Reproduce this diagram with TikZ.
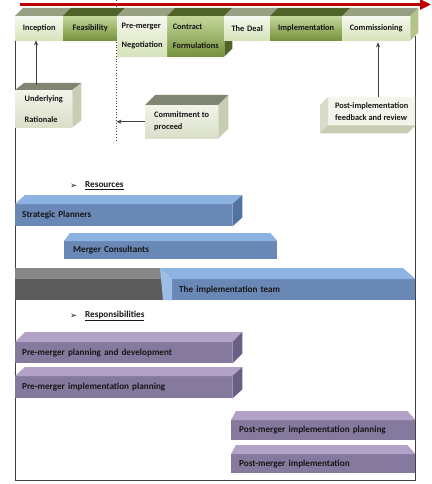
\documentclass[tikz,border=0pt]{standalone}
\usepackage{fontspec}
\setmainfont{Carlito}
\newfontfamily\symfont{DejaVu Sans}
\usetikzlibrary{arrows.meta,calc}
\definecolor{gltop}{HTML}{F5F8EE}
\definecolor{glbot}{HTML}{D6E3BA}
\definecolor{gdtop}{HTML}{C4D79B}
\definecolor{gdbot}{HTML}{76923C}
\definecolor{gtopl}{HTML}{97A083}
\definecolor{gtopd}{HTML}{4F6228}
\definecolor{gside}{HTML}{B3C48A}
\definecolor{btop}{HTML}{F2F4EA}
\definecolor{bbot}{HTML}{D9DFC8}
\definecolor{btopface}{HTML}{7F8473}
\definecolor{bside}{HTML}{C6CDB2}
\definecolor{blfront}{HTML}{6A88B6}
\definecolor{bltop}{HTML}{8DB3E2}
\definecolor{blside}{HTML}{52739F}
\definecolor{blleft}{HTML}{9DBDE6}
\definecolor{grtop}{HTML}{878787}
\definecolor{grfront}{HTML}{5C5C5C}
\definecolor{pufront}{HTML}{86799E}
\definecolor{putop}{HTML}{B3A2C7}
\definecolor{puside}{HTML}{6B5E86}
\definecolor{redline}{HTML}{C00000}
\definecolor{txt}{HTML}{161616}
\definecolor{framec}{HTML}{404040}
\newcommand\tface[4]{\fill[#4] (#1.north west) -- ++(#2,-#3) -- ($(#1.north east)+(#2,-#3)$) -- (#1.north east) -- cycle;}
\newcommand\sface[4]{\fill[#4] (#1.north east) -- ++(#2,-#3) -- ($(#1.south east)+(#2,-#3)$) -- (#1.south east) -- cycle;}
\tikzset{
  face/.style={draw=none, rectangle, anchor=north west, inner ysep=0pt, text=txt},
  small/.style={font=\fontsize{8.4}{10}\selectfont\bfseries},
  big/.style={font=\fontsize{9.2}{11}\selectfont\bfseries},
  glight/.style={face, small, top color=gltop, bottom color=glbot, inner xsep=1bp, align=center},
  gdark/.style={face, small, top color=gdtop, bottom color=gdbot, inner xsep=1bp, align=center},
  beige/.style={face, top color=btop, bottom color=bbot, inner xsep=0bp, align=left},
  bluef/.style={face, big, fill=blfront, inner xsep=7bp, align=left},
  purf/.style={face, big, fill=pufront, inner xsep=7bp, align=left},
  arr/.style={draw=framec, line width=0.6bp, -{Stealth[length=5bp,width=4bp]}},
  heading/.style={anchor=west, inner sep=0pt, text=txt, font=\fontsize{9.2}{11}\selectfont\bfseries}
}
\begin{document}
\begin{tikzpicture}[x=1bp,y=-1bp]
\useasboundingbox (0,0) rectangle (431,484);
% frame
\coordinate (ftl) at (15,40);
\coordinate (fbl) at (15,480);
\coordinate (fbr) at (415,480);
\coordinate (ftr) at (415,36);
\draw[framec, line width=0.7bp] (ftl) -- (fbl) -- (fbr) -- (ftr);
% dotted line
\coordinate (dtop) at (116.5,0);
\coordinate (dbot) at (116.5,140);
\draw[framec, line width=0.8bp, dotted] (dtop) -- (dbot);
% timeline arrow
\coordinate (tls) at (20,4.5);
\coordinate (tle) at (431,4.5);
\draw[redline, line width=3.5bp, -{Triangle[length=11bp,width=10bp]}] (tls) -- (tle);
% top row: contract side first
\node[gdark, minimum width=57bp, minimum height=40bp, align=left, font=\fontsize{8.4}{19}\selectfont\bfseries] (contract) at (167,16) {Contract\\Formulations};
\sface{contract}{8}{8}{gtopd}
\node[glight, minimum width=48bp, minimum height=24bp, text width=46bp] (incep) at (15,16) {Inception};
\node[gdark, minimum width=54bp, minimum height=24bp, text width=52bp] (feas) at (63,16) {Feasibility};
\node[glight, minimum width=50bp, minimum height=40bp, align=left, font=\fontsize{8.4}{19}\selectfont\bfseries] (premerg) at (117,16) {Pre-merger\\Negotiation};
\node[glight, minimum width=46bp, minimum height=24bp, text width=44bp] (deal) at (224,16) {The Deal};
\node[gdark, minimum width=72bp, minimum height=24bp, text width=70bp] (implph) at (270,16) {Implementation};
\node[glight, minimum width=68bp, minimum height=24bp, text width=66bp] (comm) at (342,16) {Commissioning};
\tface{incep}{8}{8}{gtopl}
\tface{feas}{8}{8}{gtopd}
\tface{premerg}{8}{8}{gtopl}
\tface{contract}{8}{8}{gtopd}
\tface{deal}{8}{8}{gtopl}
\tface{implph}{8}{8}{gtopd}
\tface{comm}{8}{8}{gtopl}
\sface{comm}{8}{8}{gside}
% arrows to top row
\node[beige, minimum width=57bp, minimum height=37bp, font=\fontsize{8.4}{21}\selectfont\bfseries] (under) at (15,90) {Underlying\\Rationale};
\tface{under}{9}{7}{btopface}
\sface{under}{9}{7}{bside}
\draw[arr] ([xshift=21bp,yshift=5bp]under.north west) -- ([xshift=21bp]under.north west |- incep.south);
\node[beige, minimum width=73bp, minimum height=33bp, font=\fontsize{8.4}{12}\selectfont\bfseries] (commit) at (145,105) {Commitment to\\proceed};
\tface{commit}{10}{10}{btopface}
\sface{commit}{10}{10}{bside}
\draw[arr] (commit.west) -- (commit.west -| dtop);
\node[beige, minimum width=87bp, minimum height=28bp, font=\fontsize{8.4}{12}\selectfont\bfseries, top color=btop!80!white, bottom color=btop] (post) at (328,97) {Post-implementation\\feedback and review};
\coordinate (pstart) at ([xshift=50bp]post.north west);
\draw[arr, shorten >=2bp] (pstart) -- (pstart |- comm.south);
\fill[bside!70!white] (post.north west) -- ++(-8,8) -- ($(post.south west)+(-8,8)$) -- (post.south west) -- cycle;
\fill[bside] (post.south west) -- ++(-8,8) -- ($(post.south east)+(-8,8)$) -- (post.south east) -- cycle;
% Resources
\node[heading] (resb) at (70,186) {\symfont\fontsize{8.5}{10}\selectfont ➢};
\node[heading] (resh) at (85,186) {\underline{Resources}};
\node[bluef, minimum width=217bp, minimum height=22bp, text width=203bp] (strat) at (15,204) {Strategic Planners};
\tface{strat}{10}{9}{bltop}
\sface{strat}{10}{9}{blside}
\node[bluef, minimum width=213bp, minimum height=18bp, text width=195bp, inner xsep=9bp] (merger) at (64,241) {Merger Consultants};
\fill[bltop] (merger.north west) -- ++(6,-8) -- ($(merger.north east)+(-7,-8)$) -- (merger.north east) -- cycle;
\coordinate (gtl) at (15,268);
\coordinate (gbr) at (172,300);
\fill[grtop] (gtl) -- (160,268) -- (172,279) -- (15,279) -- cycle;
\fill[grfront] (15,279) rectangle (gbr);
\node[bluef, minimum width=243bp, minimum height=21bp, text width=229bp] (team) at (172,279) {The implementation team};
\fill[bltop] (team.north west) -- (160,268) -- (403,268) -- (team.north east) -- cycle;
\fill[blleft] (160,268) -- (team.north west) -- (team.south west) -- (163,300) -- cycle;
% Responsibilities
\node[heading] (rspb) at (70,316) {\symfont\fontsize{8.5}{10}\selectfont ➢};
\node[heading] (rsph) at (85,316) {\underline{Responsibilities}};
\node[purf, minimum width=217bp, minimum height=21bp, text width=203bp] (pmpd) at (15,342) {Pre-merger planning and development};
\tface{pmpd}{10}{10}{putop}
\sface{pmpd}{10}{10}{puside}
\node[purf, minimum width=217bp, minimum height=22bp, text width=203bp] (pmip) at (15,376) {Pre-merger implementation planning};
\tface{pmip}{10}{9}{putop}
\sface{pmip}{10}{9}{puside}
\node[purf, minimum width=184bp, minimum height=20bp, text width=168bp, inner xsep=8bp] (postp) at (231,420) {Post-merger implementation planning};
\fill[putop] (postp.north west) -- ++(5,-9) -- ($(postp.north east)+(-8,-9)$) -- (postp.north east) -- cycle;
\node[purf, minimum width=184bp, minimum height=19bp, text width=168bp, inner xsep=8bp] (posti) at (231,454) {Post-merger implementation};
\fill[putop] (posti.north west) -- ++(5,-9) -- ($(posti.north east)+(-8,-9)$) -- (posti.north east) -- cycle;
\end{tikzpicture}
\end{document}
